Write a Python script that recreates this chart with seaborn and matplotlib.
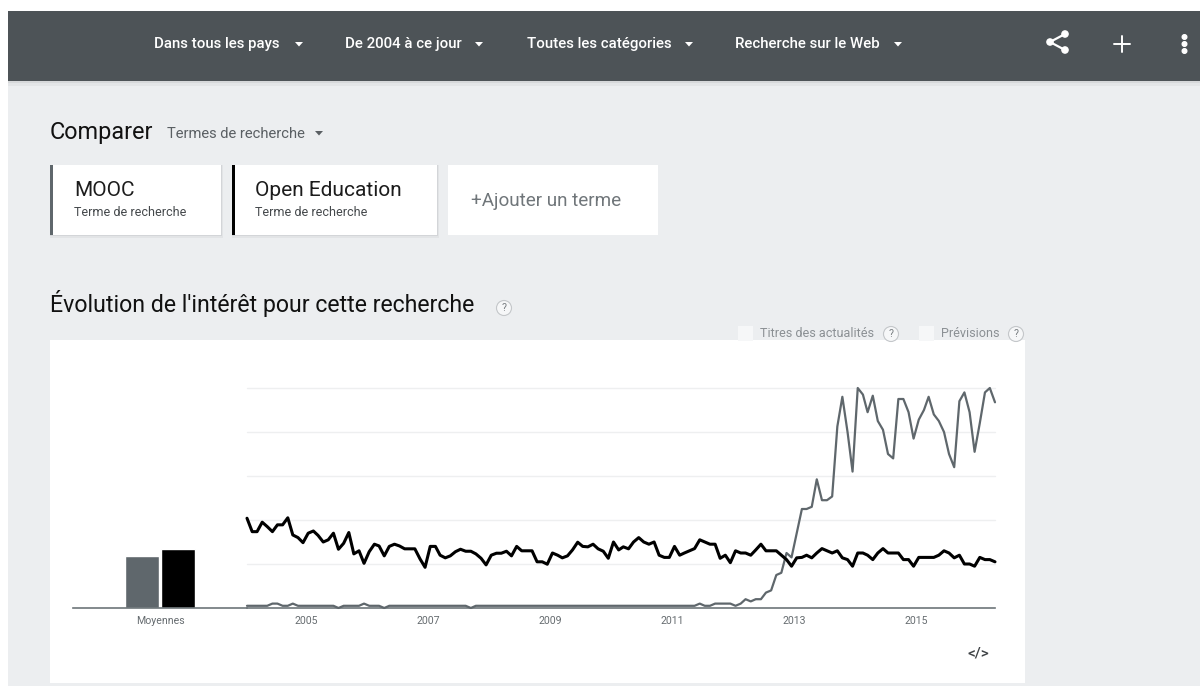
#!/usr/bin/env python3
# Google Trends screenshot: MOOC vs Open Education

import pandas as pd
import matplotlib.pyplot as plt
from matplotlib.patches import Rectangle, Polygon, Circle
import seaborn as sns

# Monthly values, January 2004 to April 2016, ten per row
mooc_values = [
    1, 1, 1, 1, 1, 2, 2, 1, 1, 2,
    1, 1, 1, 1, 1, 1, 1, 1, 0, 1,
    1, 1, 1, 2, 1, 1, 1, 0, 1, 1,
    1, 1, 1, 1, 1, 1, 1, 1, 1, 1,
    1, 1, 1, 1, 0, 1, 1, 1, 1, 1,
    1, 1, 1, 1, 1, 1, 1, 1, 1, 1,
    1, 1, 1, 1, 1, 1, 1, 1, 1, 1,
    1, 1, 1, 1, 1, 1, 1, 1, 1, 1,
    1, 1, 1, 1, 1, 1, 1, 1, 1, 2,
    1, 1, 2, 2, 2, 2, 1, 2, 4, 3,
    4, 4, 7, 8, 15, 16, 25, 23, 34, 45,
    45, 46, 58.5, 49, 49, 50.7, 82.5, 96, 80, 62,
    100, 97, 89, 96.5, 85, 81, 70, 68, 95, 95,
    89, 77, 85.6, 90, 96, 88, 85, 80, 70, 64,
    94, 98, 89, 71, 84, 98, 100, 93.5,
]
open_education_values = [
    40.8, 34.7, 34.7, 39, 37, 34.7, 37.8, 37.8, 41, 33.2,
    32, 29.7, 34, 35, 33, 30, 31, 34, 26.7, 29.4,
    34.3, 24.6, 26, 20.3, 25.6, 29, 28.2, 23.7, 28, 29,
    28.2, 26.9, 26.9, 26.9, 22.3, 18.5, 28, 28, 24, 22.8,
    23.7, 25.6, 26.7, 25.8, 25.8, 24.6, 22.6, 19.6, 24, 24.9,
    24.9, 25.8, 23.7, 28, 26, 26, 26, 21, 21, 19.9,
    25, 24, 22.8, 23.7, 26.4, 29.9, 28, 27.8, 29, 26.9,
    25.8, 22.6, 30, 26.4, 27.8, 26.9, 30, 32, 30, 29,
    30, 24, 23, 23, 28, 24, 25, 26, 27, 31,
    30, 29, 29, 22.6, 24, 20.6, 26, 25, 25, 24,
    26.4, 29, 26, 26, 26, 24, 22, 19, 22.8, 23,
    24, 22.8, 25, 27, 26, 25, 26, 22.8, 22, 19,
    25, 25, 24, 22, 25, 27, 25, 25, 25, 22,
    22, 19, 23, 23, 23, 23, 24, 26, 25, 22.8,
    24, 20, 20, 19, 23, 22, 22, 21,
]
term_names = ["MOOC", "Open Education"]
average_values = [23.6, 26.9]
average_label = "Moyennes"
year_labels = [2005, 2007, 2009, 2011, 2013, 2015]
grid_values = [0, 20, 40, 60, 80, 100]
menu_labels = ["Dans tous les pays", "De 2004 à ce jour", "Toutes les catégories", "Recherche sur le Web"]

GREY = "#5f676c"
BLACK = "#000000"
PAGE = "#eceef0"
HEADER = "#4d5357"
W, H = 1200, 686

sns.set_theme(style="white")
plt.rcParams["font.family"] = ["Roboto", "DejaVu Sans"]

fig = plt.figure(figsize=(W / 100, H / 100), dpi=100, facecolor=PAGE)


# axes from a pixel box measured from the top left corner of the picture
def pixel_axes(left, top, right, bottom):
    return fig.add_axes([left / W, 1 - bottom / H, (right - left) / W, (bottom - top) / H])


# full page layer for the interface around the chart, in pixels
ui = fig.add_axes([0, 0, 1, 1], zorder=0)
ui.set_xlim(0, W)
ui.set_ylim(H, 0)
ui.axis("off")


def box(x0, y0, x1, y1, color, **kw):
    ui.add_patch(Rectangle((x0, y0), x1 - x0, y1 - y0, facecolor=color, edgecolor="none", **kw))


def caret(x, y, color="white", size=4):
    ui.add_patch(Polygon([(x - size, y - 2), (x + size, y - 2), (x, y + 2.5)], facecolor=color, edgecolor="none"))


def help_mark(x, y, r=7.5):
    ui.add_patch(Circle((x, y), r, facecolor="#f6f7f8", edgecolor="#c4c7ca", lw=0.8))
    ui.text(x, y + 0.3, "?", fontsize=7.5, color="#777c80", ha="center", va="center")


def card_shadow(x0, y0, x1, y1):
    box(x0, y0, x1 + 1.5, y1 + 2.5, "#e2e4e6")
    box(x0, y0, x1 + 0.5, y1 + 1.2, "#d3d5d8")


# page edges and header
box(0, 0, W, 11, "white")
box(0, 0, 8, H, "white")
box(8, 81, W, 86, "#e3e5e7")
box(8, 81, W, 83, "#d6d8da")
box(8, 11, W, 81, HEADER)

menu_x = [154, 345, 527, 735]
caret_x = [299, 479, 689, 898]
for label, x, cx in zip(menu_labels, menu_x, caret_x):
    ui.text(x, 48, label, color="white", fontsize=10.85, weight="medium", va="baseline")
    caret(cx, 44)

# share, plus and menu icons
ui.plot([1065, 1050, 1065], [34, 42, 50], color="white", lw=1.6)
for cx, cy in [(1065, 34), (1050, 42), (1065, 50)]:
    ui.add_patch(Circle((cx, cy), 3.1, color="white"))
ui.plot([1114, 1130], [44, 44], color="white", lw=1.4)
ui.plot([1122, 1122], [36, 52], color="white", lw=1.4)
for cy in [37, 44, 51]:
    ui.add_patch(Circle((1184.5, cy), 2.3, color="white"))

# compare section
ui.text(50, 138.5, "Comparer", color="#111111", fontsize=16.8, va="baseline")
ui.text(167, 138, "Termes de recherche", color="#5a5f63", fontsize=10.65, va="baseline")
caret(319, 133, color="#5a5f63")

card_shadow(50, 165, 221, 235)
card_shadow(232, 165, 437, 235)
box(50, 165, 221, 235, "white")
box(232, 165, 437, 235, "white")
box(448, 165, 658, 235, "white")
box(50, 165, 53, 235, GREY)
box(232, 165, 235, 235, BLACK)
for name, x in zip(term_names, [74, 255]):
    ui.text(x, 196, name, color="#1c1c1c", fontsize=15, va="baseline")
    ui.text(x, 215.5, "Terme de recherche", color="#44484b", fontsize=9, va="baseline")
ui.text(471, 206.5, "+Ajouter un terme", color="#70767a", fontsize=13.6, va="baseline")

# section title and options above the chart
ui.text(50, 312, "Évolution de l'intérêt pour cette recherche", color="#111111", fontsize=16.7, va="baseline")
help_mark(504, 308)
box(50, 340, 1025, 683, "white")
box(738, 326, 753, 341, "#f6f7f8")
box(919, 326, 934, 341, "#f6f7f8")
ui.text(760, 333.5, "Titres des actualités", color="#8b9094", fontsize=9.1, va="center")
help_mark(891, 334)
ui.text(941, 333.5, "Prévisions", color="#8b9094", fontsize=9.1, va="center")
help_mark(1016, 334)
ui.text(978, 654, "</>", color="#3f4346", fontsize=11, weight="medium", ha="center", va="center")

# averages on the left
averages = pd.DataFrame({"label": [average_label] * 2, "term": term_names, "value": average_values})
ax_bar = pixel_axes(73, 388, 247, 608)
ax_bar.set_zorder(2)
ax_bar.patch.set_alpha(0)
sns.barplot(
    data=averages, x="label", y="value", hue="term", hue_order=term_names,
    palette=[GREY, BLACK], width=0.41, gap=0.03, saturation=1, legend=False, ax=ax_bar,
)
ax_bar.set_xlim(-0.5, 0.5)
ax_bar.set_ylim(0, 100)
ax_bar.set_yticks([])
ax_bar.set_xlabel("")
ax_bar.set_ylabel("")
ax_bar.tick_params(axis="x", length=0, pad=6, labelsize=7.6, labelcolor="#666c70")
sns.despine(ax=ax_bar, left=True)
ax_bar.spines["bottom"].set_color("#6d7579")
ax_bar.spines["bottom"].set_linewidth(1.2)

# monthly lines
months = pd.date_range("2004-01-01", periods=len(mooc_values), freq="MS")
trend = pd.DataFrame({"month": months, "MOOC": mooc_values, "Open Education": open_education_values})
trend = trend.melt(id_vars="month", var_name="term", value_name="value")

ax = pixel_axes(247, 388, 995, 608)
ax.set_zorder(3)
ax.patch.set_alpha(0)
for value in grid_values[1:]:
    ax.axhline(value, color="#eeeff0", lw=1, zorder=0)
sns.lineplot(data=trend[trend.term == term_names[0]], x="month", y="value", color=GREY, lw=1.6, ax=ax, zorder=3)
sns.lineplot(data=trend[trend.term == term_names[1]], x="month", y="value", color=BLACK, lw=2.2, ax=ax, zorder=4)
ax.set_xlim(months[0], months[-1])
ax.set_ylim(0, 100)
ax.set_yticks([])
ax.set_xlabel("")
ax.set_ylabel("")
# Trends centres its year labels a little before January
ax.set_xticks(pd.to_datetime([f"{year - 1}-12-18" for year in year_labels]))
ax.set_xticklabels(year_labels)
ax.tick_params(axis="x", length=0, pad=6, labelsize=7.6, labelcolor="#666c70")
for line in ax.get_lines():
    line.set_clip_on(False)
sns.despine(ax=ax, left=True)
ax.spines["bottom"].set_color("#6d7579")
ax.spines["bottom"].set_linewidth(1.2)

fig.savefig("out.png", dpi=100, facecolor=PAGE)
